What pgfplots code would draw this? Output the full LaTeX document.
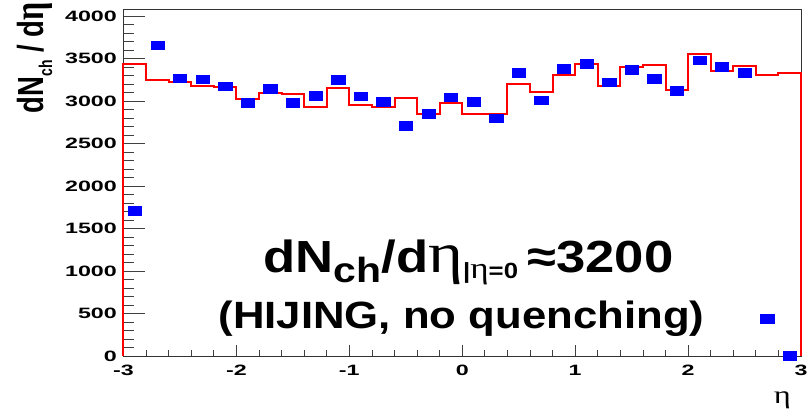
\documentclass[border=0pt]{standalone}
\usepackage{fontspec}
\setmainfont{Liberation Sans}
\newfontfamily\greekserif{Liberation Serif}
\usepackage{graphicx}
\usepackage{pgfplots}
\pgfplotsset{compat=1.18}
\usepackage{pgfplotstable}

% dN_ch/deta per 0.2-wide eta bin (points at bin centres)
\pgfplotstableread{
eta   dndeta
-2.9  1710
-2.7  3658
-2.5  3270
-2.3  3258
-2.1  3176
-1.9  2983
-1.7  3148
-1.5  2983
-1.3  3061
-1.1  3252
-0.9  3058
-0.7  2991
-0.5  2713
-0.3  2854
-0.1  3046
 0.1  2991
 0.3  2799
 0.5  3336
 0.7  3011
 0.9  3383
 1.1  3437
 1.3  3222
 1.5  3372
 1.7  3261
 1.9  3120
 2.1  3481
 2.3  3407
 2.5  3336
 2.7   439
 2.9     5
}\points

% reference histogram, value given at the lower edge of each bin
\pgfplotstableread{
lo    hist
-3.0     0
-3.0  3437
-2.8  3242
-2.6  3226
-2.4  3175
-2.2  3163
-2.0  3019
-1.8  3089
-1.6  3077
-1.4  2932
-1.2  3148
-1.0  2952
-0.8  2928
-0.6  3034
-0.4  2842
-0.2  2979
 0.0  2850
 0.2  2850
 0.4  3203
 0.6  3109
 0.8  3305
 1.0  3437
 1.2  3175
 1.4  3399
 1.6  3426
 1.8  3132
 2.0  3555
 2.2  3352
 2.4  3407
 2.6  3308
 2.8  3328
 3.0  3328
 3.0     0
}\histo

\definecolor{rootblue}{RGB}{0,0,255}
\definecolor{rootred}{RGB}{255,0,0}
\newcommand\tl[1]{\scalebox{1.55}[1]{#1}}

\begin{document}
\begin{tikzpicture}[x=1pt,y=1pt]
\useasboundingbox (0,0) rectangle (812,414);
\begin{axis}[
  at={(123.5pt,58pt)}, anchor=south west,
  scale only axis, width=677.5pt, height=347pt,
  xmin=-3, xmax=3, ymin=0, ymax=4082,
  clip=false,
  axis line style={black!80, line width=0.9pt},
  tick pos=left, tick align=inside,
  tick style={black!75, line width=0.8pt},
  xtick={-3,-2,-1,0,1,2,3},
  xticklabels={\tl{-3},\tl{-2},\tl{-1},\tl{0},\tl{1},\tl{2},\tl{3}},
  ytick={0,500,1000,1500,2000,2500,3000,3500,4000},
  yticklabels={\tl{0},\tl{500},\tl{1000},\tl{1500},\tl{2000},\tl{2500},\tl{3000},\tl{3500},\tl{4000}},
  minor x tick num=4, minor y tick num=4,
  major x tick style={/pgfplots/major tick length=11pt},
  minor x tick style={/pgfplots/minor tick length=5.5pt},
  major y tick style={/pgfplots/major tick length=21pt},
  minor y tick style={/pgfplots/minor tick length=10.5pt},
  ticklabel style={font=\fontsize{15}{15}\selectfont\bfseries, inner sep=0pt},
  xticklabel shift=9pt, yticklabel shift=6.5pt,
]
\addplot[const plot mark left, rootred, line width=2pt] table[x=lo, y=hist]{\histo};
\addplot[only marks, mark=square*, mark size=4.35pt,
  mark options={xscale=1.53, fill=rootblue, draw=rootblue, line width=0.3pt}]
  table[x=eta, y=dndeta]{\points};
\end{axis}

% axis titles
\node[rotate=90, anchor=base east, inner sep=0pt] at (43,412)
  {\scalebox{1}[1.32]{\fontsize{27.5}{27.5}\selectfont\bfseries dN\raisebox{-7pt}{\fontsize{14}{14}\selectfont ch} / d{\greekserif\fontsize{32}{32}\selectfont η}}};
\node[anchor=base east, inner sep=0pt] at (791,10)
  {\scalebox{1.3}[1]{\greekserif\fontsize{25}{25}\selectfont η}};

% annotation
\node[anchor=base, inner sep=0pt] at (468.5,141)
  {\scalebox{1.17}[1]{\fontsize{45}{45}\selectfont\bfseries dN\raisebox{-10pt}{\fontsize{35}{35}\selectfont ch}/d{\greekserif\mdseries\fontsize{57}{57}\selectfont η}\raisebox{-6pt}{\fontsize{22}{22}\selectfont |{\greekserif\mdseries\fontsize{30}{30}\selectfont η}=0}\hspace{8pt}≈3200}};
\node[anchor=base, inner sep=0pt] at (461.5,85)
  {\scalebox{1.15}[1]{\fontsize{38}{38}\selectfont\bfseries (HIJING, no quenching)}};
\end{tikzpicture}
\end{document}
